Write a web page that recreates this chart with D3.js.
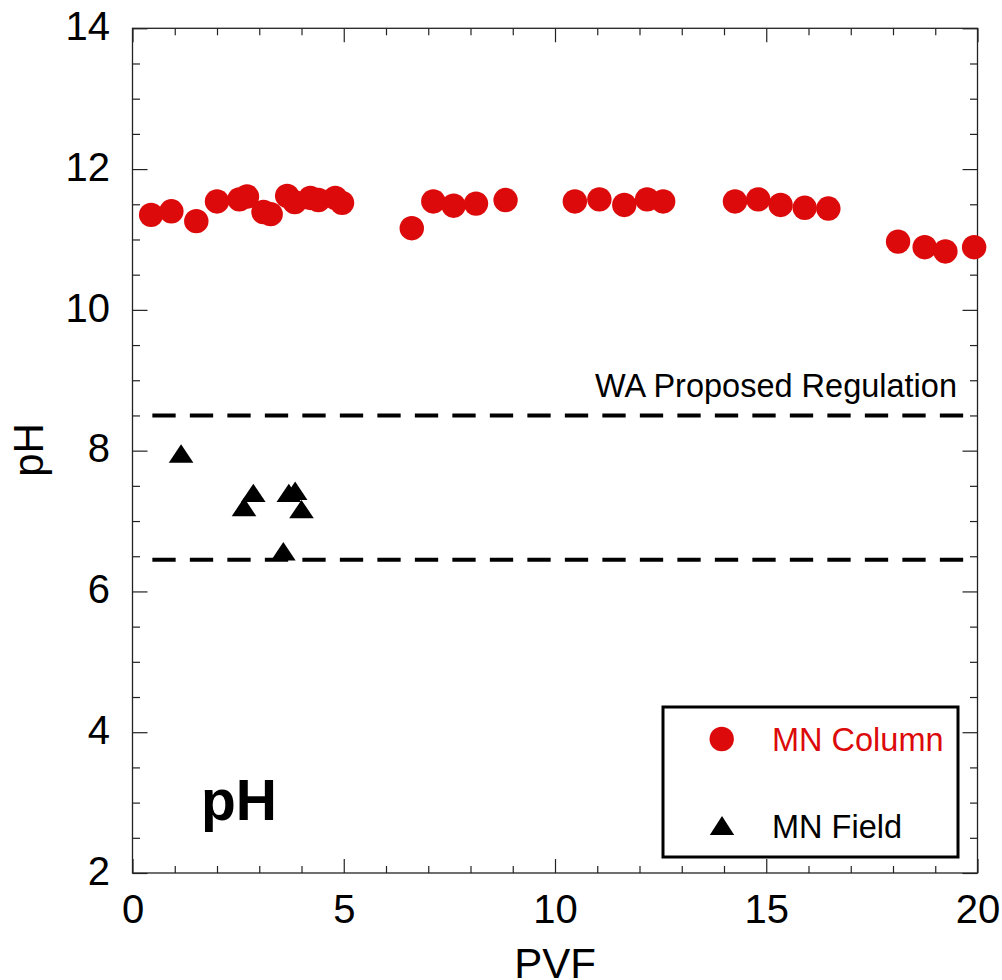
<!DOCTYPE html>
<html><head><meta charset="utf-8">
<script src="https://cdn.jsdelivr.net/npm/d3@7"></script>
<style>
body{margin:0;background:#fff}
svg{display:block}
text{font-family:Arial,'Liberation Sans',Helvetica,sans-serif}
</style>
</head><body>
<svg id="chart" width="1002" height="980"></svg>
<script>
// ---- data ----
const xTickValues = [0, 5, 10, 15, 20];
const yTickValues = [2, 4, 6, 8, 10, 12, 14];
const xMinorTicks = d3.range(0, 21, 1).filter(d => d % 5 !== 0);
const yMinorTicks = d3.range(2, 14.01, 0.5).filter(d => d % 2 !== 0);

const columnPVF = [0.44,0.92,1.51,2.00,2.53,2.71,3.10,3.27,3.66,3.84,4.21,4.40,4.80,4.96,6.61,7.12,7.60,8.13,8.83,10.47,11.05,11.64,12.18,12.56,14.26,14.81,15.34,15.91,16.47,18.12,18.75,19.24,19.92];
const columnPH  = [11.35,11.40,11.26,11.54,11.57,11.61,11.39,11.36,11.62,11.53,11.59,11.56,11.59,11.52,11.16,11.54,11.48,11.51,11.56,11.54,11.57,11.49,11.57,11.54,11.54,11.57,11.49,11.45,11.44,10.97,10.89,10.83,10.89];

const fieldPVF = [1.15, 2.64, 2.86, 3.57, 3.70, 3.85, 4.00];
const fieldPH  = [7.96, 7.20, 7.40, 6.57, 7.40, 7.43, 7.17];

const regulationPH = [8.5, 6.45];
const regulationPVF = [0.47, 19.67];
const regulationLabel = "WA Proposed Regulation";
const seriesNames = ["MN Column", "MN Field"];
const xTitle = "PVF", yTitle = "pH", panelLabel = "pH";

// ---- layout ----
const RED = "#dc0a0a";
const svg = d3.select("#chart");
const L = 132.5, R = 977.5, T = 28.3, B = 873;
const x = d3.scaleLinear().domain([0, 20]).range([L, R]);
const y = d3.scaleLinear().domain([2, 14]).range([B, T]);
const AX = "#222";

function styleAxis(g) {
  g.select(".domain").remove();
  g.selectAll(".tick line").attr("stroke", AX).attr("stroke-width", 1.2);
}

// minor ticks
svg.append("g").attr("transform", `translate(0,${B})`)
  .call(d3.axisBottom(x).tickValues(xMinorTicks).tickSize(-7).tickFormat("")).call(styleAxis);
svg.append("g").attr("transform", `translate(0,${T})`)
  .call(d3.axisTop(x).tickValues(xMinorTicks).tickSize(-7).tickFormat("")).call(styleAxis);
svg.append("g").attr("transform", `translate(${L},0)`)
  .call(d3.axisLeft(y).tickValues(yMinorTicks).tickSize(-7.5).tickFormat("")).call(styleAxis);
svg.append("g").attr("transform", `translate(${R},0)`)
  .call(d3.axisRight(y).tickValues(yMinorTicks).tickSize(-7.5).tickFormat("")).call(styleAxis);

// major ticks
const gx = svg.append("g").attr("transform", `translate(0,${B})`)
  .call(d3.axisBottom(x).tickValues(xTickValues).tickSize(-14).tickFormat(d3.format("d"))).call(styleAxis);
gx.selectAll("text").attr("y", 50).attr("dy", null).attr("fill", "#000")
  .attr("font-size", 40).attr("font-family", "Arial,'Liberation Sans',sans-serif");
svg.append("g").attr("transform", `translate(0,${T})`)
  .call(d3.axisTop(x).tickValues(xTickValues).tickSize(-14).tickFormat("")).call(styleAxis);
const gy = svg.append("g").attr("transform", `translate(${L},0)`)
  .call(d3.axisLeft(y).tickValues(yTickValues).tickSize(-15).tickFormat(d3.format("d"))).call(styleAxis);
gy.selectAll("text").attr("x", -22.5).attr("dy", "0.28em").attr("fill", "#000")
  .attr("font-size", 40).attr("font-family", "Arial,'Liberation Sans',sans-serif");
svg.append("g").attr("transform", `translate(${R},0)`)
  .call(d3.axisRight(y).tickValues(yTickValues).tickSize(-15).tickFormat("")).call(styleAxis);

// frame
svg.append("rect").attr("x", L).attr("y", T).attr("width", R - L).attr("height", B - T)
  .attr("fill", "none").attr("stroke", AX).attr("stroke-width", 1.3);

// regulation lines
svg.append("g").selectAll("line").data(regulationPH).join("line")
  .attr("x1", x(regulationPVF[0])).attr("x2", x(regulationPVF[1]))
  .attr("y1", d => y(d)).attr("y2", d => y(d))
  .attr("stroke", "#000").attr("stroke-width", 4).attr("stroke-dasharray", "23.3,14.2");
svg.append("text").attr("x", 957).attr("y", 396.7).attr("text-anchor", "end")
  .attr("font-size", 32.5).attr("fill", "#000").text(regulationLabel);

// column points
const colData = columnPVF.map((v, i) => ({x: v, y: columnPH[i]}));
svg.append("g").selectAll("circle").data(colData).join("circle")
  .attr("cx", d => x(d.x)).attr("cy", d => y(d.y)).attr("r", 12.2).attr("fill", RED);

// field points
const tri = (cx, cy, hw, hh) => `M${cx - hw},${cy + hh}L${cx},${cy - hh}L${cx + hw},${cy + hh}Z`;
const fieldData = fieldPVF.map((v, i) => ({x: v, y: fieldPH[i]}));
svg.append("g").selectAll("path").data(fieldData).join("path")
  .attr("d", d => tri(x(d.x), y(d.y), 12.3, 9.2)).attr("fill", "#000");

// legend
const lg = svg.append("g");
lg.append("rect").attr("x", 663).attr("y", 707).attr("width", 295).attr("height", 150)
  .attr("fill", "#fff").attr("stroke", "#000").attr("stroke-width", 3);
lg.append("circle").attr("cx", 721.7).attr("cy", 739).attr("r", 12.2).attr("fill", RED);
lg.append("path").attr("d", tri(722, 825.5, 12.2, 9.5)).attr("fill", "#000");
lg.append("text").attr("x", 772).attr("y", 751).attr("font-size", 32.5).attr("fill", RED).text(seriesNames[0]);
lg.append("text").attr("x", 772).attr("y", 837.7).attr("font-size", 32.5).attr("fill", "#000").text(seriesNames[1]);

// panel label
svg.append("text").attr("x", 201).attr("y", 820).attr("font-size", 57).attr("font-weight", "bold")
  .attr("fill", "#000").text(panelLabel);

// axis titles
svg.append("text").attr("x", (L + R) / 2).attr("y", 978).attr("text-anchor", "middle")
  .attr("font-size", 42).attr("fill", "#000").text(xTitle);
svg.append("text").attr("transform", "translate(43,450) rotate(-90)").attr("text-anchor", "middle")
  .attr("font-size", 42).attr("fill", "#000").text(yTitle);
</script>
</body></html>
